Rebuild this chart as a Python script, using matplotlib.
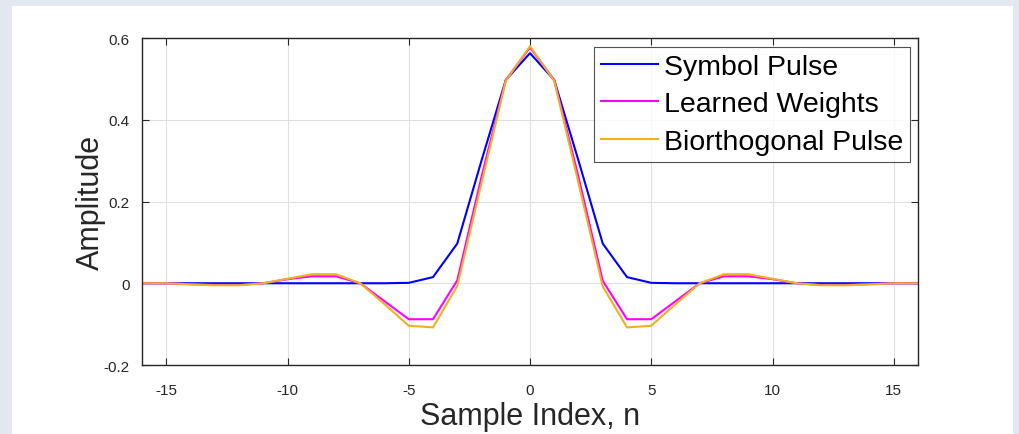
import numpy as np
import matplotlib.pyplot as plt
from matplotlib.patches import Rectangle

# sample index
n = np.arange(-16, 17)

symbol_pulse = [0, 0, 0, 0, 0, 0, 0, 0, 0, 0, 0, 0.001, 0.015, 0.097, 0.30, 0.497, 0.563,
                0.497, 0.30, 0.097, 0.015, 0.001, 0, 0, 0, 0, 0, 0, 0, 0, 0, 0, 0]
learned_weights = [0, 0, -0.002, -0.004, -0.004, 0, 0.01, 0.017, 0.017, 0, -0.044, -0.088, -0.088, 0.007, 0.26, 0.497, 0.577,
                   0.497, 0.26, 0.006, -0.088, -0.088, -0.044, 0, 0.017, 0.017, 0.01, 0, -0.004, -0.004, -0.002, 0, 0]
biorth_pulse = [0, 0, -0.003, -0.005, -0.005, 0, 0.011, 0.022, 0.022, 0, -0.051, -0.104, -0.108, -0.007, 0.245, 0.495, 0.58,
                0.495, 0.245, -0.008, -0.108, -0.104, -0.051, 0, 0.022, 0.022, 0.011, 0, -0.005, -0.005, -0.003, 0, 0]

plt.rcParams['font.family'] = ['Liberation Sans', 'DejaVu Sans']

fig = plt.figure(figsize=(10.19, 4.35), dpi=100)
fig.patch.set_facecolor('#e3e7f0')
fig.patches.append(Rectangle((12 / 1019, 0), (1013 - 12) / 1019, 1 - 7 / 435,
                             transform=fig.transFigure, facecolor='white',
                             edgecolor='none', zorder=-10))

ax = fig.add_axes([142 / 1019, 1 - 366 / 435, (918 - 142) / 1019, (366 - 39) / 435])
ax.set_zorder(1)
ax.plot(n, symbol_pulse, color='#0000ff', lw=1.5, label='Symbol Pulse')
ax.plot(n, learned_weights, color='#ff00ff', lw=1.5, label='Learned Weights')
ax.plot(n, biorth_pulse, color='#edb120', lw=1.5, label='Biorthogonal Pulse')

ax.set_xlim(-16, 16)
ax.set_ylim(-0.2, 0.6)
ax.set_xticks([-15, -10, -5, 0, 5, 10, 15])
ax.set_yticks([-0.2, 0, 0.2, 0.4, 0.6])
ax.set_yticklabels(['-0.2', '0', '0.2', '0.4', '0.6'])
ax.set_xticklabels(['-15', '-10', '-5', '0', '5', '10', '15'])
ax.grid(True, color='#e0e0e0', lw=0.8)
ax.set_axisbelow(True)
ax.tick_params(direction='in', top=True, right=True, length=5, width=0.8,
               colors='#262626', labelsize=11)
ax.tick_params(axis='x', pad=13)
ax.tick_params(axis='y', pad=9)
for s in ax.spines.values():
    s.set_color('#262626')
    s.set_linewidth(1.0)

ax.set_xlabel('Sample Index, n', fontsize=22, color='#262626', labelpad=3)
ax.set_ylabel('Amplitude', fontsize=22, color='#262626', labelpad=-2)

leg = ax.legend(loc='upper right', bbox_to_anchor=(0.9897, 0.973), fontsize=20.5,
                frameon=True, fancybox=False, edgecolor='#262626',
                handlelength=2.0, handletextpad=0.2, labelspacing=0.4,
                borderpad=0.25, borderaxespad=0)
leg.get_frame().set_linewidth(0.8)

fig.savefig('out.png', dpi=100, facecolor=fig.get_facecolor())
